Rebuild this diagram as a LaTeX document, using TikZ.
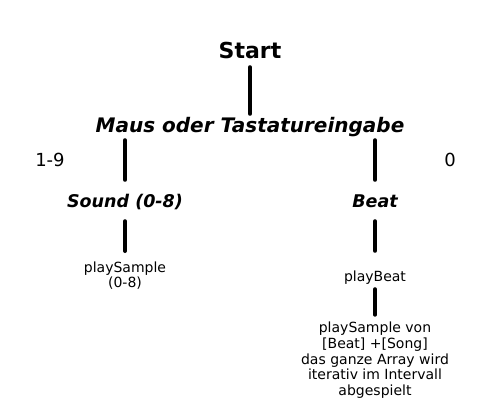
\documentclass[tikz,border=0pt]{standalone}
\usepackage{fontspec}
\setmainfont{DejaVu Sans}
\tikzset{
  txt/.style={inner sep=0pt, anchor=base},
  title/.style={txt, font=\bfseries\fontsize{22}{26}\selectfont, text height=16.7pt, text depth=5.3pt},
  event/.style={txt, font=\bfseries\itshape\fontsize{20}{24}\selectfont, text height=15.2pt, text depth=4.8pt},
  choice/.style={txt, font=\bfseries\itshape\fontsize{17.5}{21}\selectfont, text height=13.3pt, text depth=4.2pt},
  keylabel/.style={txt, font=\fontsize{18}{22}\selectfont},
  action/.style={inner sep=0pt, font=\fontsize{14}{15.6}\selectfont, align=center},
  link/.style={line width=4pt, line cap=round},
}
\begin{document}
\begin{tikzpicture}[x=1pt, y=-1pt]
  \useasboundingbox (0,0) rectangle (500,400);
  % Ueberschrift und Eingabe
  \node[title] (start) at (250,58) {Start};
  \node[event] (input) at (250,132) {Maus oder Tastatureingabe};
  \node[keylabel] (keys) at (50,166) {1-9};
  \node[keylabel] (zero) at (450,166) {0};
  % die beiden Zweige
  \node[choice] (sound) at (125,207) {Sound (0-8)};
  \node[choice] (beat) at (375,207) {Beat};
  \node[action, anchor=north] (playsample) at (125,261.5) {playSample\\(0-8)};
  \node[action, txt, text height=10.6pt, text depth=3.4pt] (playbeat) at (375,281) {playBeat};
  \node[action, anchor=north] (loop) at (375,322.1) {playSample von\\{}[Beat] +[Song]\\das ganze Array wird\\iterativ im Intervall\\abgespielt};
  % Verbindungen
  \draw[link, shorten <=3.7pt, shorten >=2.8pt] (start) -- (input);
  \draw[link, shorten <=3.2pt, shorten >=13.7pt] (input.south -| sound) -- (sound);
  \draw[link, shorten <=3.2pt, shorten >=13.7pt] (input.south -| beat) -- (beat);
  \draw[link, shorten <=9.8pt, shorten >=10.5pt] (sound) -- (playsample);
  \draw[link, shorten <=9.8pt, shorten >=19.4pt] (beat) -- (playbeat);
  \draw[link, shorten <=4.6pt, shorten >=7.4pt] (playbeat) -- (loop);
\end{tikzpicture}
\end{document}
